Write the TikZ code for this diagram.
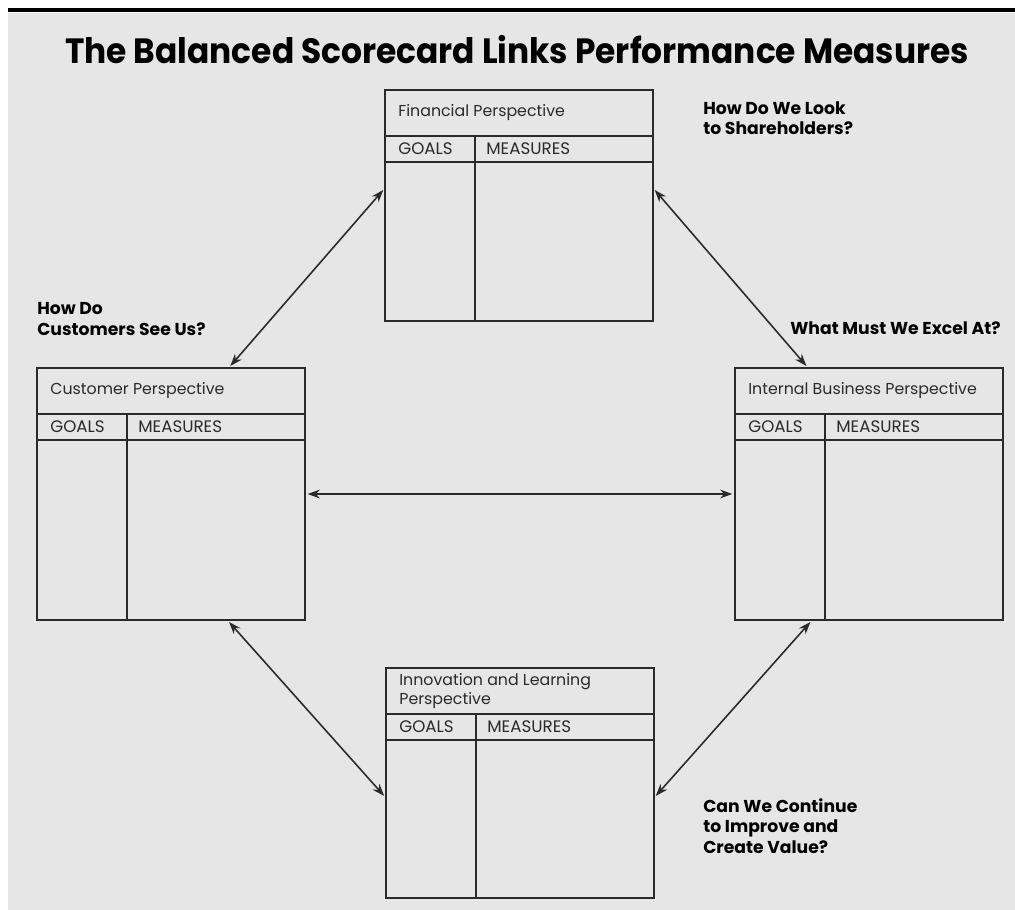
\documentclass[tikz,border=0pt]{standalone}
\usepackage{fontspec}
\setmainfont{Poppins}
\usetikzlibrary{positioning,arrows.meta,calc}

\definecolor{paper}{HTML}{E6E6E6}
\definecolor{ink}{HTML}{2A2A2A}

\tikzset{
  card/.style={draw=ink, line width=1.4pt, rectangle, minimum width=5.36cm, outer sep=0pt, inner sep=0pt, anchor=north west},
  cardtitle/.style={font=\fontsize{9}{10.5}\selectfont, text=ink, anchor=west, align=left, inner sep=0pt},
  cardhead/.style={font=\fontsize{9.5}{11}\selectfont, text=ink, anchor=west, inner sep=0pt},
  question/.style={font=\bfseries\fontsize{9.8}{11.5}\selectfont, anchor=west, align=left, inner sep=0pt},
  link/.style={{Stealth[length=7pt,width=5pt]}-{Stealth[length=7pt,width=5pt]}, line width=0.9pt, ink, shorten <=1.5pt, shorten >=1.5pt}
}

\begin{document}
\begin{tikzpicture}[x=0.02cm, y=-0.02cm]
\useasboundingbox (0,0) rectangle (1015,910);
% paper and top rule
\fill[white] (0,0) rectangle (1015,910);
\fill[paper] (8,13) rectangle (1015,910);
\draw[line width=2.4pt] (8,10) -- (1015,10);

\node[font=\bfseries\fontsize{20}{24}\selectfont] (title) at (517,50) {\scalebox{0.935}[1]{The Balanced Scorecard Links Performance Measures}};

% the four perspectives
\foreach \nm/\x/\y/\h/\ttl in {fin/385/90/231/{Financial Perspective},
    cust/37/368/252/{Customer Perspective},
    int/735/368/252/{Internal Business Perspective},
    inn/386/668/230/{Innovation and Learning\\Perspective}} {
  \node[card, minimum height=\h*0.02cm] (\nm) at (\x,\y) {};
  \draw[ink, line width=1.4pt] (\x,\y+46) -- ++(268,0);
  \draw[ink, line width=1.4pt] (\x,\y+72) -- ++(268,0);
  \draw[ink, line width=1.4pt] (\x+90,\y+46) -- (\x+90,\y+\h);
  \node[cardtitle] (\nm-title) at (\x+13,\y+23) {\ttl};
  \node[cardhead] (\nm-goals) at (\x+13,\y+59) {GOALS};
  \node[cardhead] (\nm-measures) at (\x+101,\y+59) {MEASURES};
}

% questions
\node[question] (share) at (703,118) {How Do We Look\\to Shareholders?};
\node[question] (see) at (37,319) {How Do\\Customers See Us?};
\node[question] (excel) at (790,328) {What Must We Excel At?};
\node[question] (value) at (703,826) {Can We Continue\\to Improve and\\Create Value?};

% links
\draw[link] ($(fin.north west)!0.424!(fin.south west)$) -- ($(cust.north west)!0.715!(cust.north east)$);
\draw[link] ($(fin.north east)!0.424!(fin.south east)$) -- ($(int.north west)!0.273!(int.north east)$);
\draw[link] (cust.east) -- (int.west);
\draw[link] ($(cust.south west)!0.71!(cust.south east)$) -- ($(inn.north west)!0.565!(inn.south west)$);
\draw[link] ($(int.south west)!0.288!(int.south east)$) -- ($(inn.north east)!0.565!(inn.south east)$);
\end{tikzpicture}
\end{document}
